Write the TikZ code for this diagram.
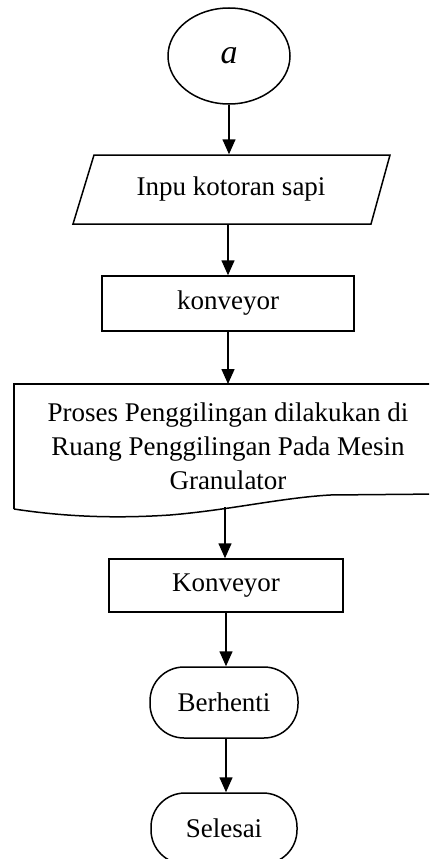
\documentclass[tikz,border=0pt]{standalone}
\usepackage{fontspec}
\setmainfont{Liberation Serif}
\usetikzlibrary{shapes.geometric,arrows.meta}
\begin{document}
\begin{tikzpicture}[x=1pt,y=-1pt,
  line width=1.5pt,
  arr/.style={-{Triangle[width=13pt,length=15pt]},line width=1.5pt},
  txt/.style={font=\fontsize{27}{34}\selectfont,align=center,inner sep=0pt},
  boxnode/.style={draw,rectangle,txt},
  termnode/.style={draw,rectangle,rounded corners=34pt,txt}]
\useasboundingbox (0,0) rectangle (429,859);
\clip (0,0) rectangle (429,859);
% start connector
\node[draw,ellipse,minimum width=122pt,minimum height=96pt,inner sep=0pt,
      font=\fontsize{34}{38}\selectfont\itshape] (start) at (229,56) {\raisebox{-5pt}{a}};
% input parallelogram
\draw (94,155) -- (390,155) -- (371,224) -- (73,224) -- cycle;
\node[txt,minimum width=250pt,minimum height=69pt] (inp) at (231,189.5) {Inpu kotoran sapi};
% konveyor 1
\node[boxnode,minimum width=252pt,minimum height=55pt] (k1) at (228,303.5) {konveyor};
% document shape
\draw (14,509) -- (14,384) -- (440,384);
\draw (14,509) .. controls (60,516) and (110,519) .. (170,515)
      .. controls (230,510) and (280,498) .. (330,495) -- (440,494);
\node[txt] (doc) at (228,446) {Proses Penggilingan dilakukan di\\Ruang Penggilingan Pada Mesin\\Granulator};
\coordinate (doctop) at (227,384);
\coordinate (docbot) at (225,507);
% konveyor 2
\node[boxnode,minimum width=234pt,minimum height=53pt] (k2) at (226,585.5) {Konveyor};
% terminals
\node[termnode,minimum width=148pt,minimum height=71pt] (stop) at (224,702.5) {Berhenti};
\node[termnode,minimum width=146pt,minimum height=71pt] (end) at (224,828.5) {Selesai};
% connectors
\draw[arr] (start.south) -- (start.south |- inp.north);
\draw[arr] (k1.north |- inp.south) -- (k1.north);
\draw[arr] (k1.south) -- (k1.south |- doctop);
\draw[arr] (docbot) -- (docbot |- k2.north);
\draw[arr] (k2.south) -- (k2.south |- stop.north);
\draw[arr] ([xshift=2pt]stop.south) -- ([xshift=2pt]stop.south |- end.north);
\end{tikzpicture}
\end{document}
